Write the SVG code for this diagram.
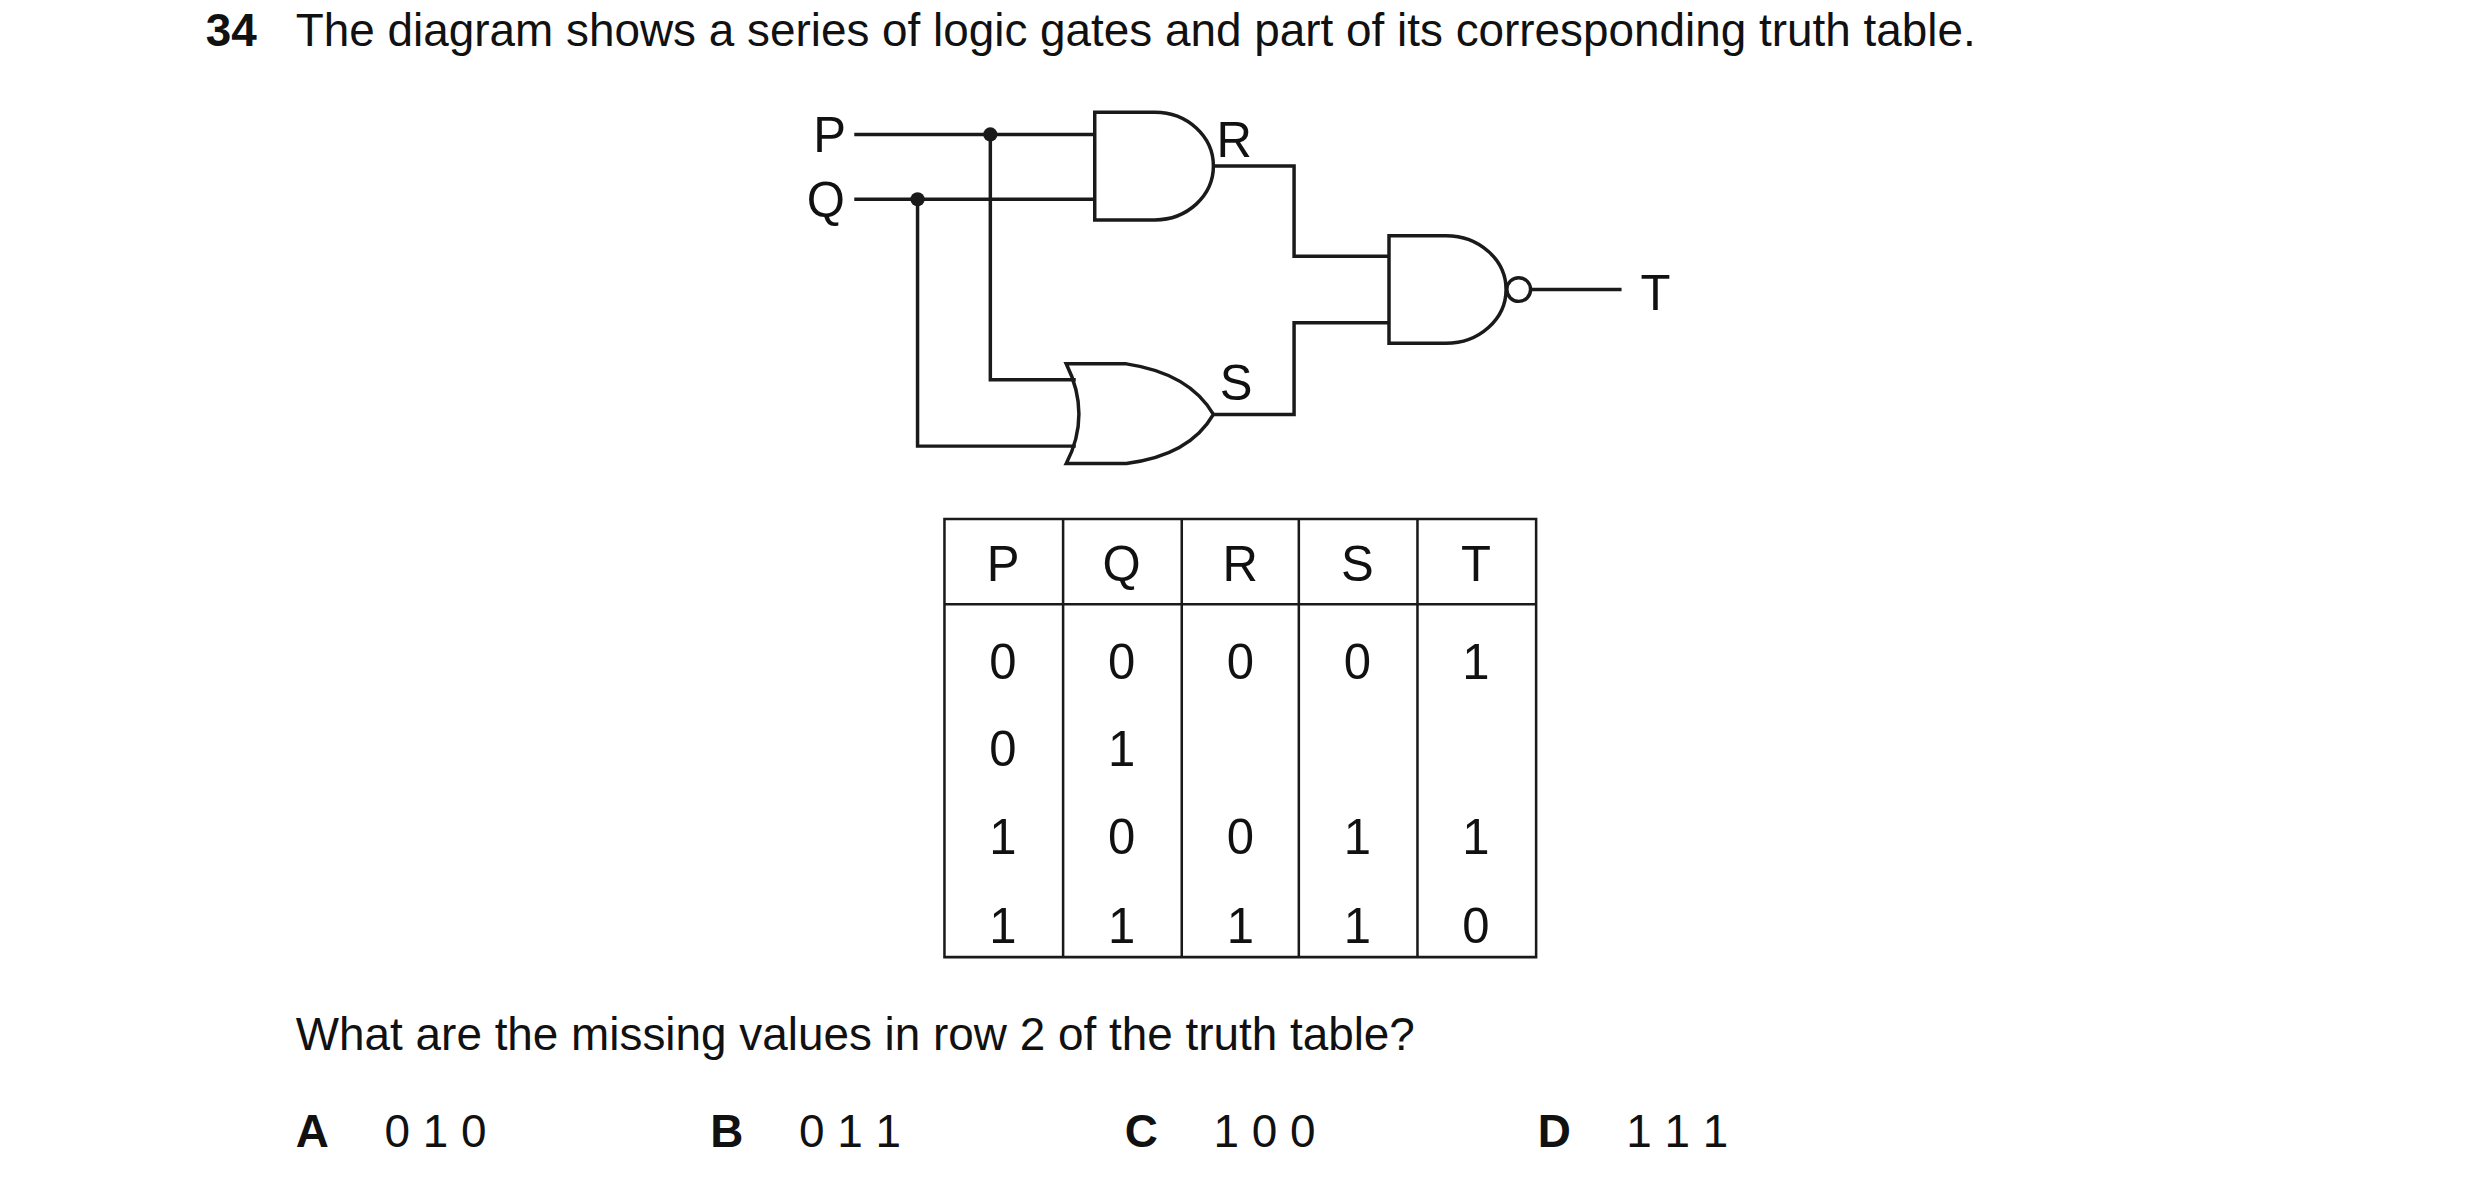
<svg xmlns="http://www.w3.org/2000/svg" width="2480" height="1187" viewBox="0 0 2480 1187">
<style>
text{font-family:"Liberation Sans",Arial,sans-serif;fill:#111}
.w{fill:none;stroke:#1a1a1a;stroke-width:2.2;stroke-linejoin:miter}
.t{font-size:29px}
.l{font-size:31px}
.c{font-size:31px;text-anchor:middle}
.b{font-weight:bold}
</style>
<rect width="2480" height="1187" fill="#fff"/>
<g transform="scale(1.582)">
<g id="title"><text class="t b" x="130" y="29">34</text><text class="t" x="187" y="29">The diagram shows a series of logic gates and part of its corresponding truth table.</text></g>
<g id="inP"><text class="l" x="514" y="96">P</text></g>
<g id="inQ"><text class="l" x="510" y="137">Q</text></g>
<g id="and"><path class="w" d="M692 71 H730 A37 34 0 0 1 730 139 H692 Z"/><text class="l" x="769" y="99">R</text></g>
<g id="or"><path class="w" d="M674 230 H712 Q752 236 767 262 Q752 288 712 293 H674 Q690 262 674 230 Z"/><text class="l" x="771" y="253">S</text></g>
<g id="nand"><path class="w" d="M878 149 H914 A38 34 0 0 1 914 217 H878 Z"/><circle class="w" cx="960" cy="183" r="7.5"/><text class="l" x="1037" y="196">T</text></g>
<g id="connectors">
<path class="w" d="M540 85 H692 M540 126 H692 M626 85 V240 H680 M580 126 V282 H680 M767 105 H818 V162 H878 M767 262 H818 V204 H878 M968 183 H1025"/>
<circle cx="626" cy="85" r="4.5" fill="#1a1a1a"/><circle cx="580" cy="126" r="4.5" fill="#1a1a1a"/>
</g>
<g id="table">
<path class="w" style="stroke-width:1.6" d="M597 328 H971 V605 H597 Z M597 382 H971 M672 328 V605 M747 328 V605 M821 328 V605 M896 328 V605"/>
<g class="c">
<text x="634" y="367">P</text><text x="709" y="367">Q</text><text x="784" y="367">R</text><text x="858" y="367">S</text><text x="933" y="367">T</text>
<text x="634" y="429">0</text><text x="709" y="429">0</text><text x="784" y="429">0</text><text x="858" y="429">0</text><text x="933" y="429">1</text>
<text x="634" y="484">0</text><text x="709" y="484">1</text>
<text x="634" y="540">1</text><text x="709" y="540">0</text><text x="784" y="540">0</text><text x="858" y="540">1</text><text x="933" y="540">1</text>
<text x="634" y="596">1</text><text x="709" y="596">1</text><text x="784" y="596">1</text><text x="858" y="596">1</text><text x="933" y="596">0</text>
</g>
</g>
<g id="question"><text class="t" x="187" y="664">What are the missing values in row 2 of the truth table?</text></g>
<g id="options">
<text class="t b" x="187" y="725">A</text><text class="t" x="243" y="725">0 1 0</text>
<text class="t b" x="449" y="725">B</text><text class="t" x="505" y="725">0 1 1</text>
<text class="t b" x="711" y="725">C</text><text class="t" x="767" y="725">1 0 0</text>
<text class="t b" x="972" y="725">D</text><text class="t" x="1028" y="725">1 1 1</text>
</g>
</g>
</svg>
